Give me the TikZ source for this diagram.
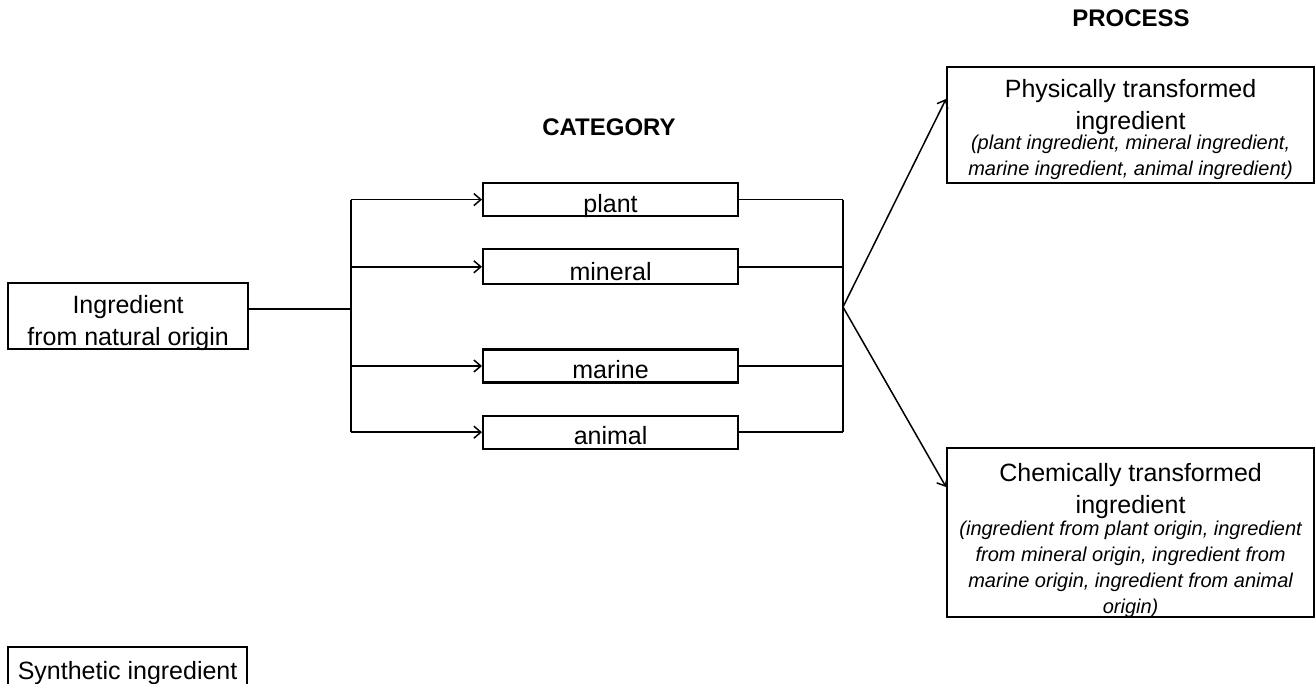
\documentclass[tikz,border=0pt]{standalone}
\usepackage{fontspec}
\setmainfont{Liberation Sans}
\usetikzlibrary{positioning,arrows.meta}

\newcommand{\bigtxt}{\fontsize{25}{32}\selectfont}
\newcommand{\smalltxt}{\fontsize{20}{26}\selectfont\itshape}
\newcommand{\boxlines}[2]{\parbox[b]{#1}{\centering #2}}

\tikzset{
  box/.style={draw,line width=2.2pt,inner xsep=0pt,inner ysep=4pt,text depth=0pt,anchor=north west,font=\bigtxt},
  link/.style={line width=1.5pt},
  arr/.style={link,-{Straight Barb[length=7pt,width=12pt]}},
  head/.style={font=\fontsize{24}{28}\selectfont\bfseries,anchor=base},
}

\begin{document}
\begin{tikzpicture}[x=1pt,y=-1pt]
  \useasboundingbox (0,0) rectangle (1315,684);
  \node(process)[head] at (1131,27){PROCESS};
  \node(category)[head] at (609,136){CATEGORY};
  \node(natural)[box,text height=58pt] at (7,282){\boxlines{240pt}{Ingredient\\from natural origin}};
  \node(plant)[box,text height=25pt] at (482,182){\boxlines{255pt}{plant}};
  \node(mineral)[box,text height=27pt,below =31pt of plant]{\boxlines{255pt}{mineral}};
  \node(marine)[box,text height=25pt,below =63pt of mineral]{\boxlines{255pt}{marine}};
  \node(animal)[box,text height=25pt,below =31pt of marine]{\boxlines{255pt}{animal}};
  \node(physical)[box,inner ysep=8pt,text height=100pt] at (946,66){\boxlines{367pt}{{Physically transformed\\ingredient\par}\vspace{-6pt}
    {\smalltxt (plant ingredient, mineral ingredient,\\marine ingredient, animal ingredient)\par}}};
  \node(chemical)[box,text height=161pt] at (946,447){\boxlines{367pt}{{Chemically transformed\\ingredient\par}\vspace{-4pt}
    {\smalltxt (ingredient from plant origin, ingredient\\from mineral origin, ingredient from\\marine origin, ingredient from animal\\origin)\par}}};
  \node(synthetic)[box,inner ysep=8pt,text height=24pt] at (7,646){\boxlines{239pt}{Synthetic ingredient}};
  \coordinate(split) at (351,309);
  \coordinate(join) at (843,307);
\draw[link](natural.east |- split)--(split);
\draw[link](split |- plant.west)--(split |- animal.west);
\foreach \cat in {plant,mineral,marine,animal}
  \draw[arr](split |- \cat.west)--(\cat.west);
\foreach \cat in {plant,mineral,marine,animal}
  \draw[link](\cat.east)--(join |- \cat.east);
\draw[link](join |- plant.east)--(join |- animal.east);
\draw[arr](join)--([yshift=-33pt]physical.north west);
\draw[arr](join)--([yshift=-40pt]chemical.north west);
\end{tikzpicture}
\end{document}
